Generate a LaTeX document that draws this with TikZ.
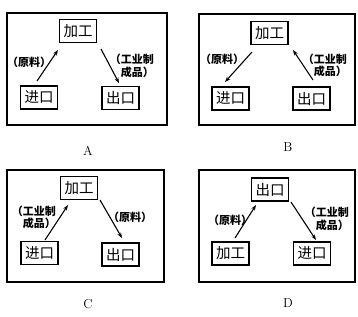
\documentclass[tikz,border=0pt]{standalone}
\usepackage{fontspec}
\newfontfamily\cjk{Noto Sans CJK SC}
\usetikzlibrary{arrows.meta}
\begin{document}
\begin{tikzpicture}[x=1bp,y=-1bp,
  frame/.style={draw, line width=1.4bp},
  box/.style={draw, line width=1.4bp, minimum width=37bp, minimum height=23bp, inner sep=0pt, font=\cjk\fontsize{14.5bp}{16bp}\selectfont},
  lab/.style={inner sep=0pt, font=\cjk\bfseries\fontsize{11bp}{12.5bp}\selectfont},
  arr/.style={line width=1.1bp, -{Stealth[length=5.5bp,width=4bp]}},
  letter/.style={inner sep=0pt, font=\fontsize{13bp}{15bp}\selectfont}]
\useasboundingbox (0,0) rectangle (358,317);
% frames
\draw[frame] (7,13) rectangle (167,125);
\draw[frame] (199,14) rectangle (355,125);
\draw[frame] (7,170) rectangle (164,282);
\draw[frame] (199,170) rectangle (355,282);
% Panel A
\node[box] (jgA) at (78,31) {加工};
\node[box] (jkA) at (39,97.5) {进口};
\node[box] (ckA) at (120.5,98) {出口};
\coordinate (a1s) at (37,81); \coordinate (a1e) at (58,50);
\coordinate (a2s) at (101,49); \coordinate (a2e) at (119,83);
\draw[arr] (a1s) -- (a1e);
\draw[arr] (a2s) -- (a2e);
\node[lab] (lA1) at (29,62) {（原料）};
\node[lab, align=right, anchor=east] (lA2) at (154,66) {（工业制\\成品）};
\node[letter] (tA) at (88,151) {A};
% Panel B
\node[box] (jgB) at (269.5,33) {加工};
\node[box] (jkB) at (230.5,98.5) {进口};
\node[box] (ckB) at (311.5,98.5) {出口};
\coordinate (b1s) at (252,52); \coordinate (b1e) at (225,82);
\coordinate (b2s) at (313,80); \coordinate (b2e) at (293,50);
\draw[arr] (b1s) -- (b1e);
\draw[arr] (b2s) -- (b2e);
\node[lab] (lB1) at (222,59) {（原料）};
\node[lab, align=right, anchor=east] (lB2) at (347,65.5) {（工业制\\成品）};
\node[letter] (tB) at (288,147) {B};
% Panel C
\node[box] (jgC) at (79,188) {加工};
\node[box] (jkC) at (39.5,253) {进口};
\node[box] (ckC) at (120.5,254.5) {出口};
\coordinate (c1s) at (45,240); \coordinate (c1e) at (68,205);
\coordinate (c2s) at (100,200); \coordinate (c2e) at (122,238);
\draw[arr] (c1s) -- (c1e);
\draw[arr] (c2s) -- (c2e);
\node[lab, align=right, anchor=east] (lC1) at (56,217.5) {（工业制\\成品）};
\node[lab] (lC2) at (130,217) {（原料）};
\node[letter] (tC) at (88,304) {C};
% Panel D
\node[box] (ckD) at (270,189.5) {出口};
\node[box] (jgD) at (230.5,253.5) {加工};
\node[box] (jkD) at (312,253.5) {进口};
\coordinate (d1s) at (235,238); \coordinate (d1e) at (256,205);
\coordinate (d2s) at (291,202); \coordinate (d2e) at (316,240);
\draw[arr] (d1s) -- (d1e);
\draw[arr] (d2s) -- (d2e);
\node[lab] (lD1) at (230,220) {（原料）};
\node[lab, align=right, anchor=east] (lD2) at (349,219) {（工业制\\成品）};
\node[letter] (tD) at (288,303) {D};
\end{tikzpicture}
\end{document}
